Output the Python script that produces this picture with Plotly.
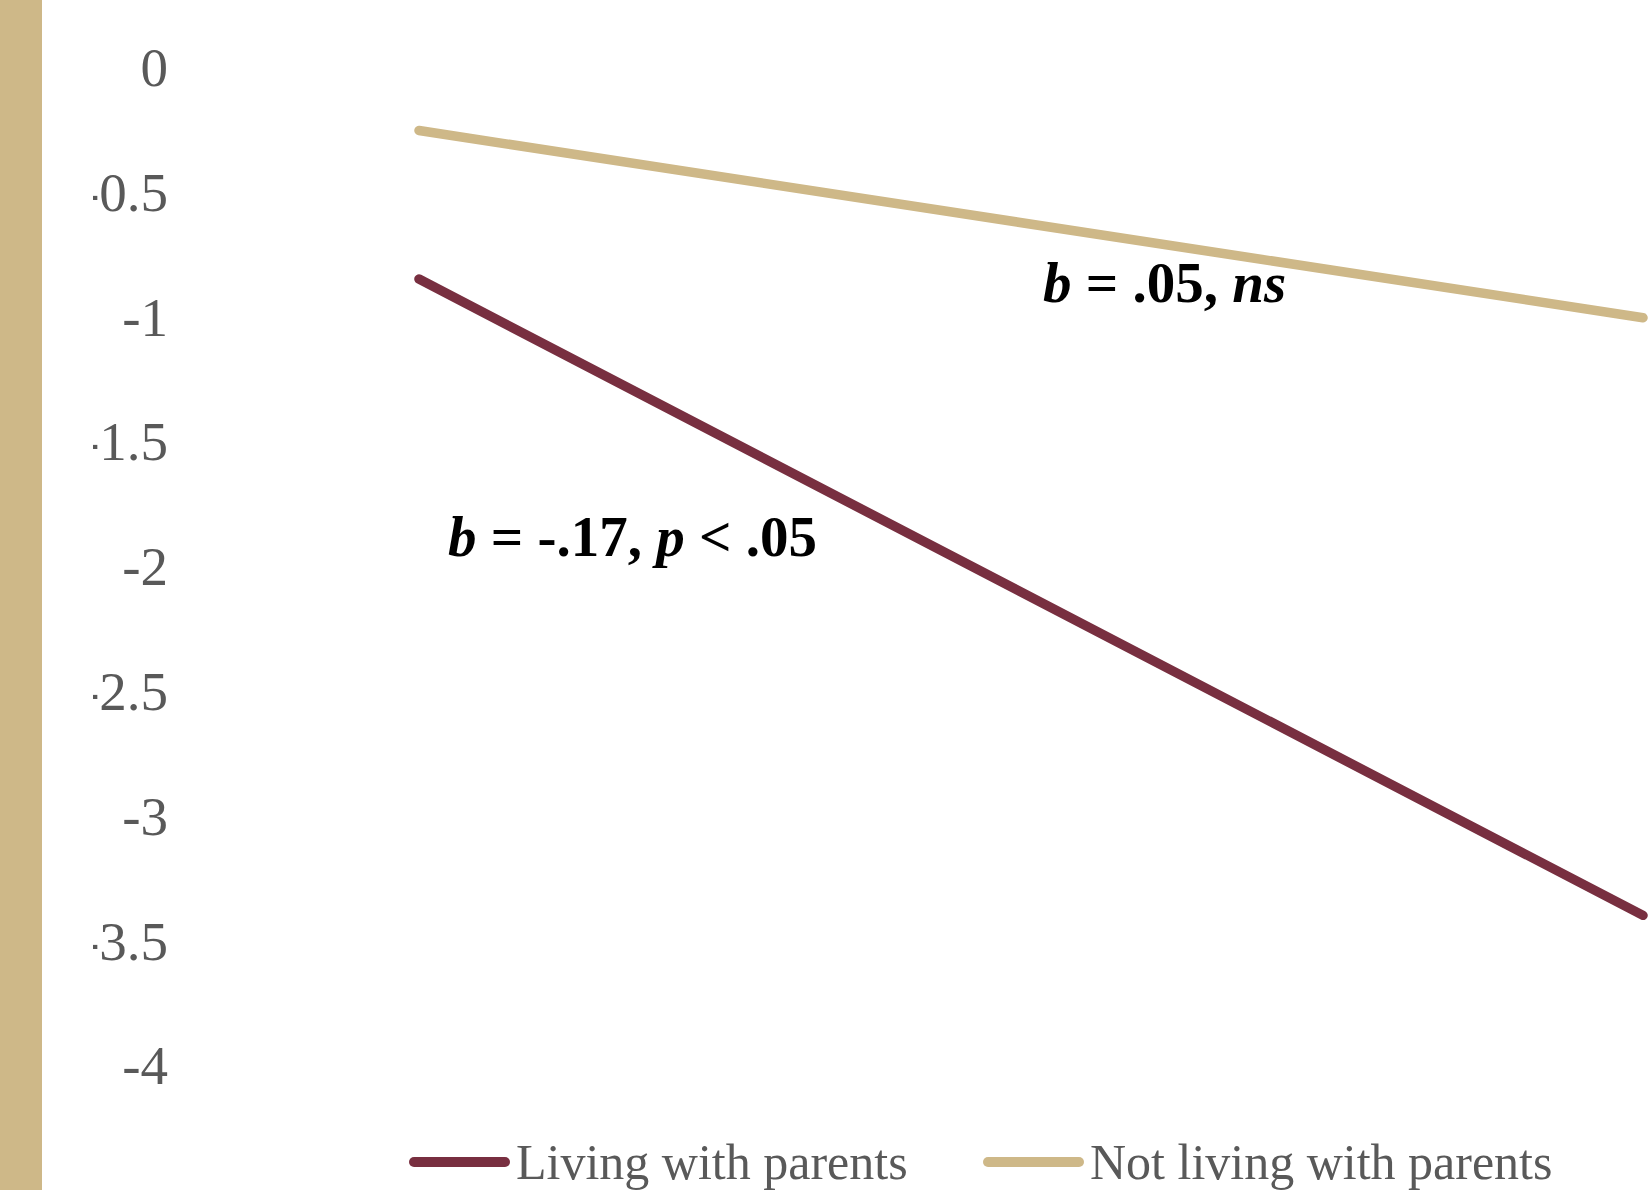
import plotly.graph_objects as go

# data
x_levels = [0, 1]
living_with = [-0.85, -3.40]
not_living_with = [-0.255, -1.005]
series_names = ["Living with parents", "Not living with parents"]
y_ticks = [0, -0.5, -1, -1.5, -2, -2.5, -3, -3.5, -4]
y_tick_text = ["0", "-0.5", "-1", "-1.5", "-2", "-2.5", "-3", "-3.5", "-4"]
slope_notes = ["<b><i>b</i> = -.17, <i>p</i> &lt; .05</b>",
               "<b><i>b</i> = .05, <i>ns</i></b>"]

GARNET = "#782F40"
GOLD = "#CEB888"
GREY = "#595959"
FONT = "Liberation Serif, Times New Roman, serif"

W, H = 1650, 1190
ML, MR, MT, MB = 395, 2, 17, 75
PW, PH = W - ML - MR, H - MT - MB


def px_x(p):
    return (p - ML) / PW


def px_y(p):
    return 1 - (p - MT) / PH


# x=0 sits at 419px and x=1 at 1643px
x0f, x1f = px_x(419), px_x(1643)
span = 1 / (x1f - x0f)
x_range = [-x0f * span, -x0f * span + span]

fig = go.Figure()
fig.add_trace(go.Scatter(x=x_levels, y=living_with, mode="lines",
                         name=series_names[0],
                         line=dict(color=GARNET, width=9.5),
                         showlegend=False))
fig.add_trace(go.Scatter(x=x_levels, y=not_living_with, mode="lines",
                         name=series_names[1],
                         line=dict(color=GOLD, width=9.5),
                         showlegend=False))

fig.update_layout(
    width=W, height=H,
    margin=dict(l=ML, r=MR, t=MT, b=MB),
    paper_bgcolor="white", plot_bgcolor="white",
    font=dict(family=FONT, color=GREY),
    xaxis=dict(range=x_range, showgrid=False, zeroline=False,
               showline=False, showticklabels=False, ticks=""),
    yaxis=dict(range=[-4.2, 0.2], tickvals=y_ticks, ticktext=y_tick_text,
               showgrid=False, zeroline=False, showline=False, ticks="",
               tickfont=dict(size=55, color=GREY, family=FONT),
               ticklabelstandoff=226),
)

# slope annotations
fig.add_annotation(x=px_x(446), y=px_y(536), xref="paper", yref="paper",
                   text=slope_notes[0], showarrow=False, xanchor="left",
                   yanchor="middle", font=dict(size=57, color="black",
                                               family=FONT))
fig.add_annotation(x=px_x(1041), y=px_y(282), xref="paper", yref="paper",
                   text=slope_notes[1], showarrow=False, xanchor="left",
                   yanchor="middle", font=dict(size=57, color="black",
                                               family=FONT))

# gold band on the left, and the cut-off edge that hides the minus signs
fig.add_shape(type="rect", xref="paper", yref="paper", layer="above",
              x0=px_x(0), x1=px_x(42), y0=px_y(H), y1=px_y(0),
              fillcolor=GOLD, line_width=0)
fig.add_shape(type="rect", xref="paper", yref="paper", layer="above",
              x0=px_x(42), x1=px_x(93), y0=px_y(H), y1=px_y(0),
              fillcolor="white", line_width=0)

# legend drawn by hand so the key lines are long
legend_items = [(GARNET, 414, 505, 514), (GOLD, 988, 1079, 1088)]
for (col, a, b, tx), label in zip(legend_items, series_names):
    fig.add_shape(type="line", xref="paper", yref="paper",
                  x0=px_x(a), x1=px_x(b), y0=px_y(1162), y1=px_y(1162),
                  line=dict(color=col, width=10))
    fig.add_annotation(x=px_x(tx), y=px_y(1162), xref="paper", yref="paper",
                       text=label, showarrow=False, xanchor="left",
                       yanchor="middle", font=dict(size=50, color=GREY,
                                                   family=FONT))

# no page margin, and round line ends like the original
js = ("document.body.style.margin='0';"
      "document.body.style.overflow='hidden';"
      "document.querySelectorAll('.js-line, .shapelayer path')"
      ".forEach(function(p){p.style.strokeLinecap='round';});")
fig.write_html("out.html", post_script=js,
               config={"displayModeBar": False})
